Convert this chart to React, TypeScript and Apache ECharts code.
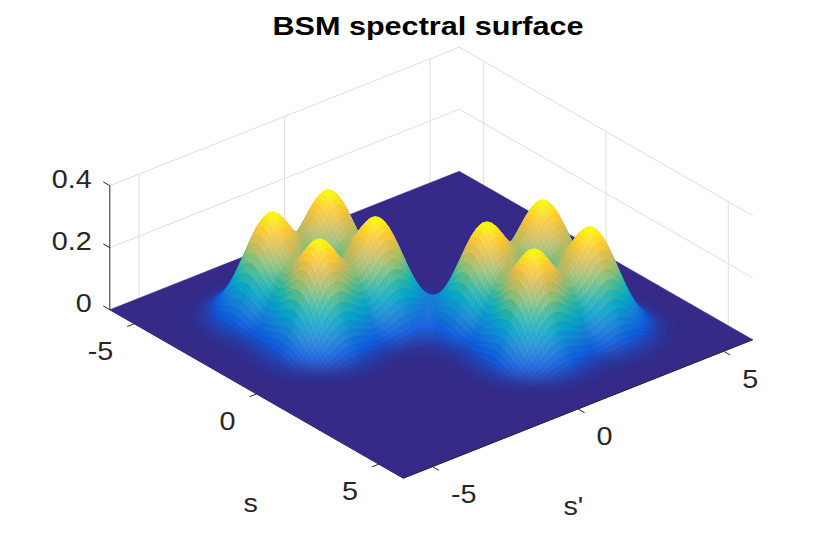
import React, { useEffect, useRef } from "react";
import * as echarts from "echarts";

// ---------- data ----------
const chartTitle = "BSM spectral surface";
const sLabel = "s";
const spLabel = "s'";
const sRange = [-6, 6];
const spRange = [-6, 6];
const zRange = [0, 0.4];
const sTicks = [-5, 0, 5];
const spTicks = [-5, 0, 5];
const zTicks = [0, 0.2, 0.4];
const zTickLabels = ["0", "0.2", "0.4"];
const sTickLabels = ["-5", "0", "5"];
const spTickLabels = ["-5", "0", "5"];
// peaks of the spectral surface (position in s, s', height, width)
const peakS = [-3, -3, -1, -1, 1, 1, 3, 3];
const peakSp = [-3, -1, -3, -1, 1, 3, 1, 3];
const peakAmp = [0.325, 0.325, 0.325, 0.325, 0.325, 0.325, 0.325, 0.325];
const peakSigma = [0.7, 0.7, 0.7, 0.7, 0.7, 0.7, 0.7, 0.7];
const gridStep = 0.1;

// ---------- layout / style ----------
const W = 830;
const H = 540;
const ORIGIN = [431.3, 324.7];
const VS = [24.46, 14.04];
const VSP = [29.12, -11.54];
const VZ = 310;
const MESH_SPACING = 0.05;
const MESH_LINE = 1.5;
const FONT = "'Liberation Sans', Helvetica, Arial, sans-serif";
const TEXT = "#262626";
const GRIDC = "#dedede";
const PARULA = [
  [53, 42, 135],
  [15, 92, 221],
  [20, 129, 214],
  [6, 164, 202],
  [46, 183, 164],
  [135, 191, 119],
  [209, 187, 89],
  [254, 200, 50],
  [249, 251, 14],
];

function proj(s: number, sp: number, z: number): number[] {
  return [
    ORIGIN[0] + s * VS[0] + sp * VSP[0],
    ORIGIN[1] + s * VS[1] + sp * VSP[1] - z * VZ,
  ];
}

function parula(t: number): number[] {
  const tt = Math.max(0, Math.min(1, t)) * (PARULA.length - 1);
  const k = Math.min(PARULA.length - 2, Math.floor(tt));
  const f = tt - k;
  const a = PARULA[k], b = PARULA[k + 1];
  return [a[0] + (b[0] - a[0]) * f, a[1] + (b[1] - a[1]) * f, a[2] + (b[2] - a[2]) * f];
}

function surfaceAt(s: number, sp: number): number {
  let z = 0;
  for (let k = 0; k < peakS.length; k++) {
    const ds = s - peakS[k];
    const dp = sp - peakSp[k];
    z += peakAmp[k] * Math.exp(-(ds * ds + dp * dp) / (2 * peakSigma[k] * peakSigma[k]));
  }
  return z;
}

const nS = Math.round((sRange[1] - sRange[0]) / gridStep);
const nP = Math.round((spRange[1] - spRange[0]) / gridStep);
const sVals = Array.from({ length: nS + 1 }, (_, i) => sRange[0] + i * gridStep);
const spVals = Array.from({ length: nP + 1 }, (_, j) => spRange[0] + j * gridStep);
const Z = sVals.map((s) => spVals.map((sp) => surfaceAt(s, sp)));
let zMax = 0;
Z.forEach((row) => row.forEach((v) => { if (v > zMax) zMax = v; }));

const quads: number[][] = [];
for (let i = 0; i < nS; i++) {
  for (let j = 0; j < nP; j++) {
    const m = Math.max(Z[i][j], Z[i + 1][j], Z[i][j + 1], Z[i + 1][j + 1]);
    if (m < 0.0008) continue;
    const key = proj((sVals[i] + sVals[i + 1]) / 2, (spVals[j] + spVals[j + 1]) / 2, 0)[1];
    quads.push([i, j, key]);
  }
}
quads.sort((a, b) => a[2] - b[2]);

// wall grid segments [s1, sp1, z1, s2, sp2, z2]
const wallSegs: number[][] = [];
spTicks.forEach((t) => wallSegs.push([sRange[0], t, zRange[0], sRange[0], t, zRange[1]]));
sTicks.forEach((t) => wallSegs.push([t, spRange[1], zRange[0], t, spRange[1], zRange[1]]));
zTicks.filter((t) => t > zRange[0]).forEach((t) => {
  wallSegs.push([sRange[0], spRange[0], t, sRange[0], spRange[1], t]);
  wallSegs.push([sRange[0], spRange[1], t, sRange[1], spRange[1], t]);
});

export default function App() {
  const ref = useRef<HTMLDivElement>(null);
  useEffect(() => {
    const chart = echarts.init(ref.current!, null, { renderer: "svg" });

    const unit = (v: number[]) => {
      const l = Math.hypot(v[0], v[1]);
      return [v[0] / l, v[1] / l];
    };
    const TL = 7.5;
    const dS = unit(VS);
    const dP = unit(VSP);

    const axisItems: any[] = [];
    axisItems.push({ a: [sRange[0], spRange[0], zRange[0]], b: [sRange[0], spRange[0], zRange[1]], off: null });
    axisItems.push({ a: [sRange[1], spRange[0], zRange[0]], b: [sRange[1], spRange[1], zRange[0]], off: null });
    zTicks.forEach((t) => axisItems.push({ a: [sRange[0], spRange[0], t], off: [-dS[0] * TL, -dS[1] * TL] }));
    sTicks.forEach((t) => axisItems.push({ a: [t, spRange[0], zRange[0]], off: [-dP[0] * TL, -dP[1] * TL] }));
    spTicks.forEach((t) => axisItems.push({ a: [sRange[1], t, zRange[0]], off: [dS[0] * TL, dS[1] * TL] }));

    const labelItems: any[] = [];
    zTicks.forEach((t, k) => labelItems.push({ p: [sRange[0], spRange[0], t], off: [-18, -6], text: zTickLabels[k], align: "right" }));
    sTicks.forEach((t, k) => labelItems.push({ p: [t, spRange[0], zRange[0]], off: [-21, 28], text: sTickLabels[k], align: "right" }));
    spTicks.forEach((t, k) => labelItems.push({ p: [sRange[1], t, zRange[0]], off: [18.5, 28], text: spTickLabels[k], align: "left" }));
    labelItems.push({ p: [0, spRange[0], zRange[0]], off: [-6, 110], text: sLabel, align: "center" });
    labelItems.push({ p: [sRange[1], 0, zRange[0]], off: [-4.7, 98], text: spLabel, align: "center" });

    const option: any = {
      animation: false,
      grid: { left: 0, right: 0, top: 0, bottom: 0 },
      xAxis: { type: "value", min: 0, max: W, show: false },
      yAxis: { type: "value", min: 0, max: H, inverse: true, show: false },
      graphic: [
        {
          type: "text",
          x: 428,
          y: 26.3,
          scaleX: 1.2,
          z: 10,
          style: {
            text: chartTitle,
            fill: "#000",
            fontSize: 25.5,
            fontWeight: "bold",
            fontFamily: FONT,
            align: "center",
            verticalAlign: "middle",
            textAlign: "center",
            textVerticalAlign: "middle",
          },
        },
      ],
      series: [
        {
          type: "custom",
          name: "walls",
          z: 1,
          silent: true,
          data: wallSegs.map((_, k) => [k, 0]),
          renderItem: (params: any, api: any) => {
            const g = wallSegs[api.value(0)];
            const a = api.coord(proj(g[0], g[1], g[2]));
            const b = api.coord(proj(g[3], g[4], g[5]));
            return {
              type: "line",
              shape: { x1: a[0], y1: a[1], x2: b[0], y2: b[1] },
              style: { stroke: GRIDC, lineWidth: 1 },
            };
          },
        },
        {
          type: "custom",
          name: "floor",
          z: 2,
          silent: true,
          data: [[0, 0], [1, 0]],
          renderItem: (params: any, api: any) => {
            if (api.value(0) === 0) {
              const a = api.coord(proj(sRange[0], spRange[0], zRange[0]));
              const b = api.coord(proj(sRange[1], spRange[0], zRange[0]));
              return {
                type: "line",
                z2: 0,
                shape: { x1: a[0], y1: a[1], x2: b[0], y2: b[1] },
                style: { stroke: TEXT, lineWidth: 1 },
              };
            }
            const c = parula(0);
            const pts = [
              [sRange[0], spRange[0]],
              [sRange[1], spRange[0]],
              [sRange[1], spRange[1]],
              [sRange[0], spRange[1]],
            ].map((p) => api.coord(proj(p[0], p[1], 0)));
            return {
              type: "polygon",
              z2: 1,
              shape: { points: pts },
              style: { fill: `rgb(${c[0]},${c[1]},${c[2]})`, stroke: `rgb(${c[0]},${c[1]},${c[2]})`, lineWidth: 0.5 },
            };
          },
        },
        {
          type: "custom",
          name: "surface",
          z: 3,
          silent: true,
          data: quads.map((q) => [q[0], q[1]]),
          renderItem: (params: any, api: any) => {
            const i = api.value(0);
            const j = api.value(1);
            const p00 = api.coord(proj(sVals[i], spVals[j], Z[i][j]));
            const p10 = api.coord(proj(sVals[i + 1], spVals[j], Z[i + 1][j]));
            const p11 = api.coord(proj(sVals[i + 1], spVals[j + 1], Z[i + 1][j + 1]));
            const p01 = api.coord(proj(sVals[i], spVals[j + 1], Z[i][j + 1]));
            const e1 = [
              (p10[0] - p00[0] + p11[0] - p01[0]) / 2 / gridStep,
              (p10[1] - p00[1] + p11[1] - p01[1]) / 2 / gridStep,
            ];
            const e2 = [
              (p01[0] - p00[0] + p11[0] - p10[0]) / 2 / gridStep,
              (p01[1] - p00[1] + p11[1] - p10[1]) / 2 / gridStep,
            ];
            const cross = Math.abs(e1[0] * e2[1] - e1[1] * e2[0]);
            const l1 = Math.hypot(e1[0], e1[1]);
            const l2 = Math.hypot(e2[0], e2[1]);
            const sp1 = (cross * MESH_SPACING) / Math.max(l2, 1e-6);
            const sp2 = (cross * MESH_SPACING) / Math.max(l1, 1e-6);
            const c1 = Math.min(1, MESH_LINE / Math.max(sp1, 1e-6));
            const c2 = Math.min(1, MESH_LINE / Math.max(sp2, 1e-6));
            const white = (1 - c1) * (1 - c2);
            const zAvg = (Z[i][j] + Z[i + 1][j] + Z[i][j + 1] + Z[i + 1][j + 1]) / 4;
            const c = parula(zAvg / zMax);
            const r = Math.round(c[0] + (255 - c[0]) * white);
            const g = Math.round(c[1] + (255 - c[1]) * white);
            const b = Math.round(c[2] + (255 - c[2]) * white);
            const col = `rgb(${r},${g},${b})`;
            return {
              type: "polygon",
              z2: params.dataIndex,
              shape: { points: [p00, p10, p11, p01] },
              style: { fill: col, stroke: col, lineWidth: 0.6 },
            };
          },
        },
        {
          type: "custom",
          name: "axes",
          z: 4,
          silent: true,
          data: axisItems.map((_, k) => [k, 0]),
          renderItem: (params: any, api: any) => {
            const it = axisItems[api.value(0)];
            const a = api.coord(proj(it.a[0], it.a[1], it.a[2]));
            const b = it.off ? [a[0] + it.off[0], a[1] + it.off[1]] : api.coord(proj(it.b[0], it.b[1], it.b[2]));
            return {
              type: "line",
              shape: { x1: a[0], y1: a[1], x2: b[0], y2: b[1] },
              style: { stroke: TEXT, lineWidth: 1 },
            };
          },
        },
        {
          type: "custom",
          name: "labels",
          z: 5,
          silent: true,
          data: labelItems.map((_, k) => [k, 0]),
          renderItem: (params: any, api: any) => {
            const it = labelItems[api.value(0)];
            const a = api.coord(proj(it.p[0], it.p[1], it.p[2]));
            return {
              type: "text",
              x: a[0] + it.off[0],
              y: a[1] + it.off[1],
              scaleX: 1.15,
              style: {
                text: it.text,
                fill: TEXT,
                fontSize: 25,
                fontFamily: FONT,
                align: it.align,
                verticalAlign: "middle",
                textAlign: it.align,
                textVerticalAlign: "middle",
              },
            };
          },
        },
      ],
    };
    chart.setOption(option);
    return () => chart.dispose();
  }, []);
  return <div ref={ref} style={{ position: "absolute", left: 0, top: 0, width: W, height: H }} />;
}
